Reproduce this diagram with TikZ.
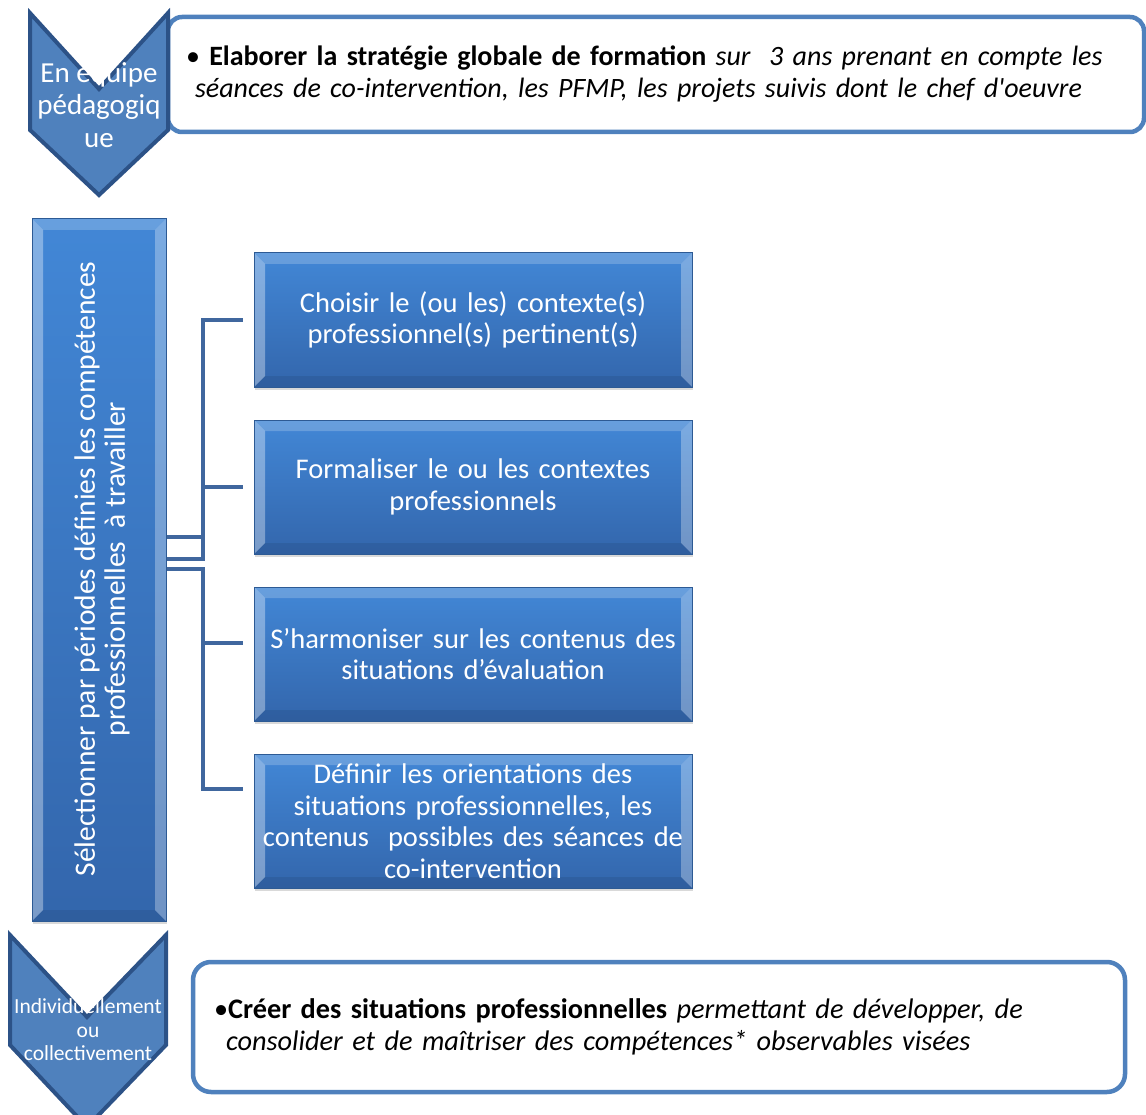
\documentclass[tikz,border=0pt]{standalone}
\usepackage{fontspec}
\setmainfont{Carlito}
\usetikzlibrary{shadows}

\definecolor{chevfill}{HTML}{4F81BD}
\definecolor{chevline}{HTML}{2C5287}
\definecolor{frameblue}{HTML}{4F81BD}
\definecolor{boxtop}{HTML}{4287D6}
\definecolor{boxbottom}{HTML}{3366AC}
\definecolor{boxline}{HTML}{2D5A94}
\definecolor{linkblue}{HTML}{40679E}

\tikzset{
	chevron/.style = {fill = chevfill, draw = chevline, line width = 4pt, line join = miter},
	chevtext/.style = {text = white, align = center, inner sep = 0pt},
	framebox/.style = {draw = frameblue, fill = white, line width = 4.5pt, rounded corners = 14pt, align = left},
	bevelbox/.style = {draw = boxline, line width = 1pt, top color = boxtop, bottom color = boxbottom,
		text = white, align = center, drop shadow = {opacity = 0.3, shadow xshift = 1pt, shadow yshift = -3pt},
		path picture = {
			\coordinate (nw) at (path picture bounding box.north west);
			\coordinate (ne) at (path picture bounding box.north east);
			\coordinate (sw) at (path picture bounding box.south west);
			\coordinate (se) at (path picture bounding box.south east);
			\fill[white, opacity = 0.35] (nw) -- (sw) -- ([shift = {(11pt, 11pt)}]sw) -- ([shift = {(11pt, -11pt)}]nw) -- cycle;
			\fill[white, opacity = 0.2] (nw) -- (ne) -- ([shift = {(-11pt, -11pt)}]ne) -- ([shift = {(11pt, -11pt)}]nw) -- cycle;
			\fill[white, opacity = 0.3] (ne) -- (se) -- ([shift = {(-11pt, 11pt)}]se) -- ([shift = {(-11pt, -11pt)}]ne) -- cycle;
			\fill[black, opacity = 0.08] (sw) -- (se) -- ([shift = {(-11pt, 11pt)}]se) -- ([shift = {(11pt, 11pt)}]sw) -- cycle;
		}},
	stepbox/.style = {bevelbox, minimum width = 438pt, minimum height = 134pt, text width = 436pt, inner xsep = 1pt,
		font = \fontsize{28.5}{31.5}\selectfont},
	link/.style = {draw = linkblue, line width = 4pt},
}

\begin{document}
\begin{tikzpicture}[x = 1pt, y = -1pt]
	\useasboundingbox (0, 0) rectangle (1146, 1115);
	\clip (0, 0) rectangle (1146, 1115);

	% en equipe
	\node[framebox, minimum width = 976pt, minimum height = 115pt, text width = 940pt, inner xsep = 18pt,
		font = \fontsize{28}{32}\selectfont] (strategie) at (656, 74.5)
		{\textbullet\ \textbf{Elaborer la stratégie globale de formation} \textit{sur\ \ 3 ans prenant en compte les}\\
		\hspace*{9pt}\textit{séances de co-intervention, les PFMP, les projets suivis dont le chef d\textquotesingle oeuvre}};
	\draw[chevron] (30, 13) -- (99, 89) -- (168, 13) -- (168, 130) -- (99, 195) -- (30, 130) -- cycle;
		\node[chevtext, font = \fontsize{29}{32.5}\selectfont] (equipe) at (99, 105) {En équipe\\pédagogiq\\ue};

	% selection et etapes
	\node[bevelbox, minimum width = 134pt, minimum height = 702pt] (selection) at (99, 570) {};
		\node[rotate = 90, text = white, align = center, font = \fontsize{29.5}{30}\selectfont] (selectiontext) at (102, 569)
			{Sélectionner par périodes définies les compétences\\professionnelles\ \ à travailler};

	\node[stepbox] (choisir) at (473, 320) {Choisir le (ou les) contexte(s)\\professionnel(s) pertinent(s)};
	\node[stepbox] (formaliser) at (473, 487) {Formaliser le ou les contextes\\professionnels};
	\node[stepbox] (harmoniser) at (473, 654) {S’harmoniser sur les contenus des\\situations d’évaluation};
	\node[stepbox] (definir) at (473, 821) {Définir les orientations des\\situations professionnelles, les\\contenus\ \ possibles des séances de\\co-intervention};

	\coordinate (bus) at (203, 570);
	\coordinate (s1) at ([yshift = 33pt]selection.east);
	\coordinate (s2) at ([yshift = 11pt]selection.east);
	\coordinate (s3) at ([yshift = 1pt]selection.east);
	\draw[link] (s1) -- (s1 -| bus);
	\draw[link, shorten > = 11pt] (s2) -- (s2 -| bus) |- (choisir.west);
	\draw[link, shorten > = 11pt] (bus |- formaliser.west) -- (formaliser.west);
	\draw[link, shorten > = 11pt] (s3) -- (s3 -| bus) |- ([yshift = 32pt]definir.west);
	\draw[link, shorten > = 11pt] (bus |- harmoniser.west) ++(0, -11) -- ([yshift = 11pt]harmoniser.west);

	% individuellement
	\node[framebox, minimum width = 932pt, minimum height = 130pt, text width = 890pt, inner xsep = 20pt,
		rounded corners = 18pt, font = \fontsize{28.3}{32}\selectfont] (creer) at (659, 1027)
		{\textbullet\textbf{Créer des situations professionnelles} \textit{permettant de développer, de}\\
		\hspace*{12pt}\textit{consolider et de maîtriser des compétences* observables visées}};
	\draw[chevron] (10, 935) -- (87, 1017) -- (166, 935) -- (166, 1045) -- (87, 1127) -- (10, 1045) -- cycle;
		\node[chevtext, font = \fontsize{21.5}{23.5}\selectfont] (individu) at (88, 1030) {Individuellement\\ou\\collectivement};
\end{tikzpicture}
\end{document}
